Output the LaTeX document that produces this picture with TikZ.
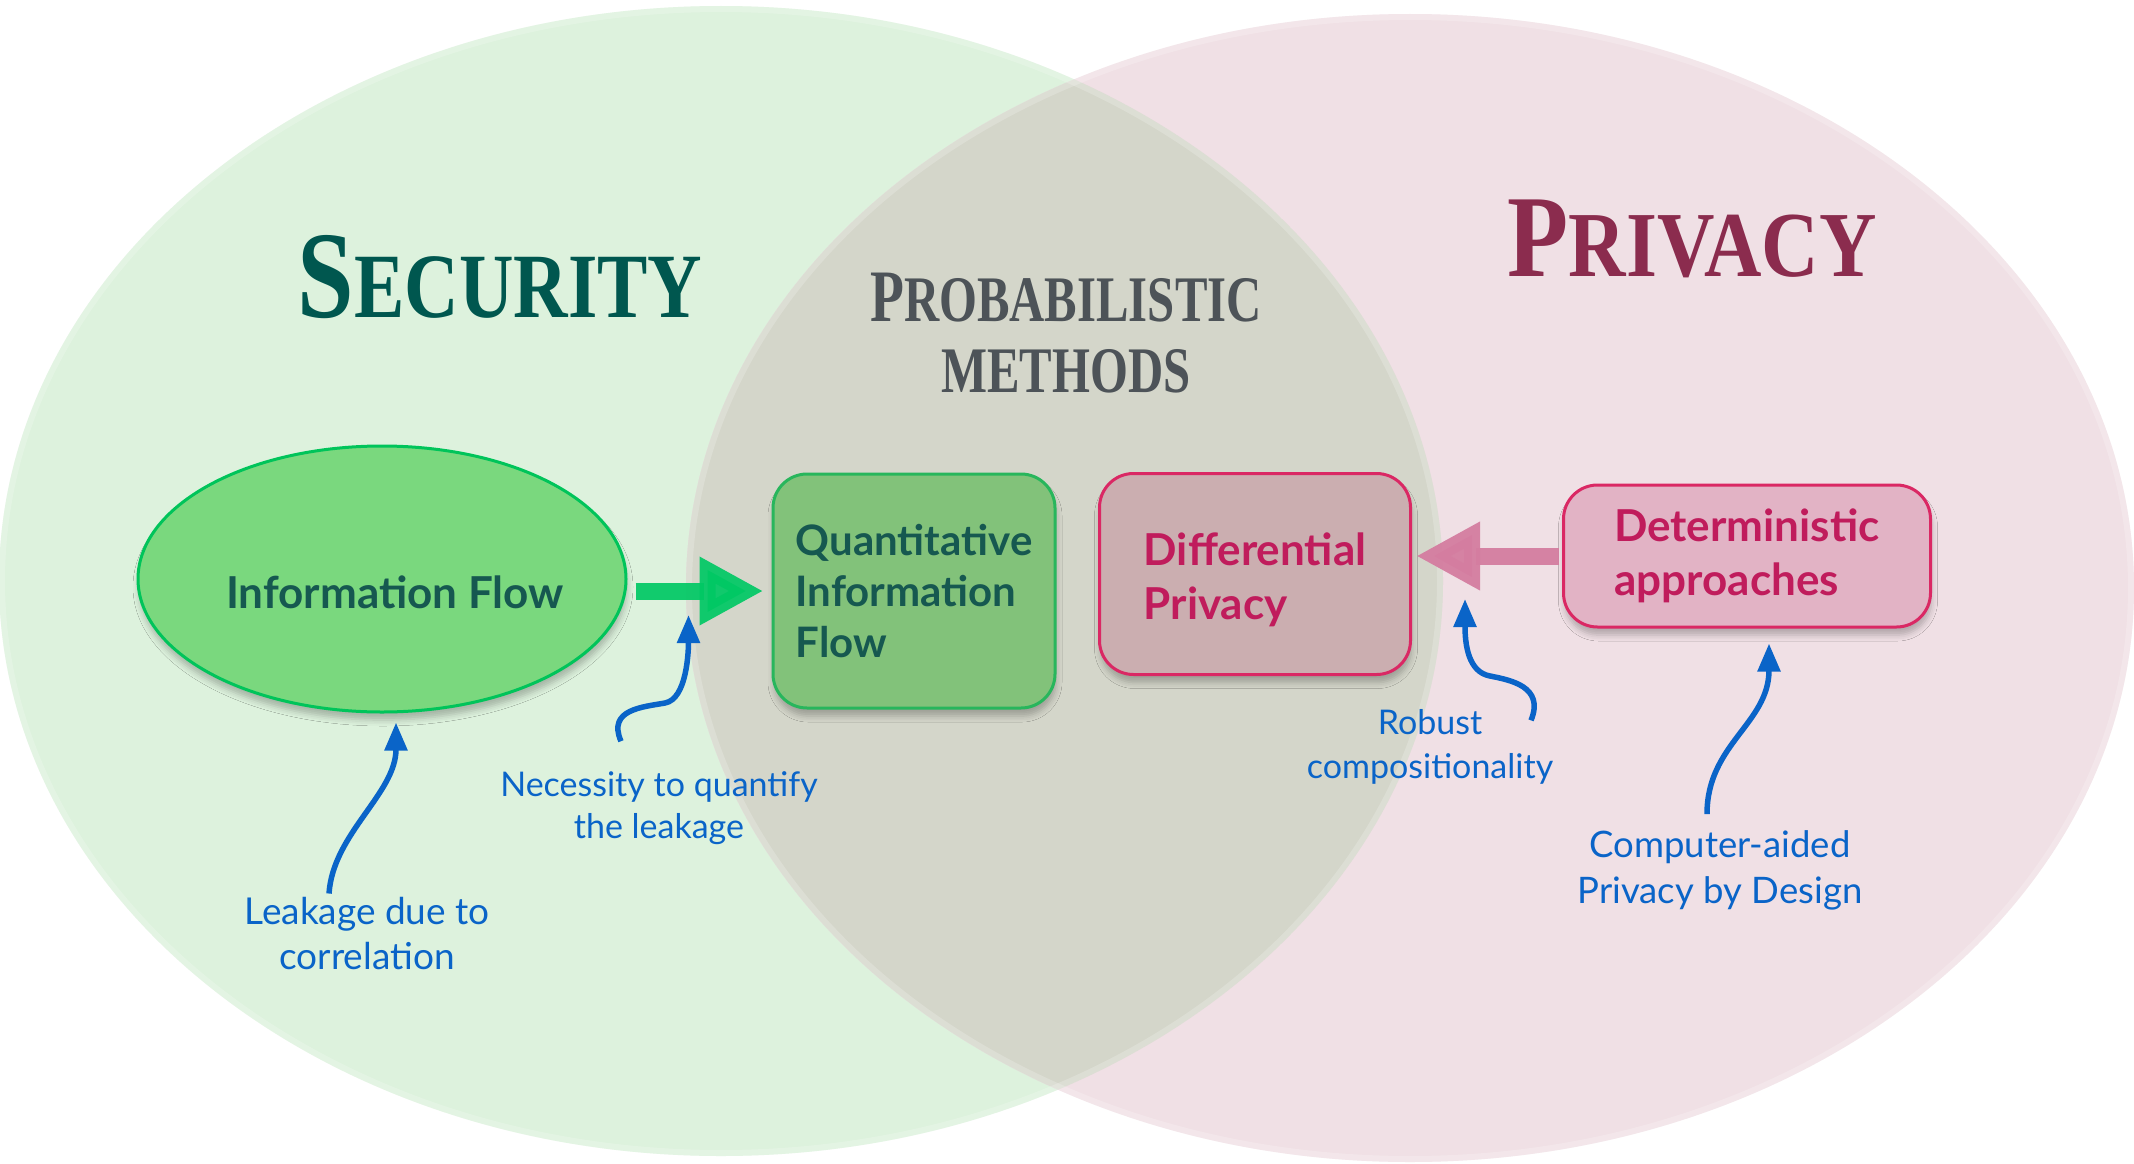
\documentclass[tikz,border=0pt]{standalone}
\usepackage{fontspec}
\setmainfont{Liberation Serif}
\newfontfamily\labelfont{Lato}
\usetikzlibrary{arrows.meta,shapes.geometric,shadows.blur,calc}

\definecolor{secbg}{RGB}{221,242,221}
\definecolor{privbg}{RGB}{240,224,229}
\definecolor{lensbg}{RGB}{212,214,202}
\definecolor{secink}{RGB}{0,87,79}
\definecolor{probink}{RGB}{77,83,88}
\definecolor{privink}{RGB}{139,44,78}
\definecolor{tealtext}{RGB}{22,88,80}
\definecolor{rosetext}{RGB}{192,28,92}
\definecolor{noteblue}{RGB}{10,100,200}
\definecolor{iffill}{RGB}{122,216,126}
\definecolor{ifedge}{RGB}{0,196,90}
\definecolor{qiffill}{RGB}{130,194,122}
\definecolor{qifedge}{RGB}{40,182,92}
\definecolor{dpfill}{RGB}{203,174,176}
\definecolor{rosedge}{RGB}{218,40,100}
\definecolor{detfill}{RGB}{226,179,197}
\definecolor{greenarrow}{RGB}{0,200,100}
\definecolor{pinkarrow}{RGB}{212,125,160}

\tikzset{
  heading/.style={anchor=base, inner sep=0pt},
  boxtext/.style={font=\labelfont\bfseries\fontsize{44}{54}\selectfont, align=left},
  softshadow/.style={blur shadow={shadow xshift=1pt, shadow yshift=-8pt,
      shadow blur radius=6pt, shadow opacity=25}},
  ifnode/.style={ellipse, font=\labelfont\bfseries\fontsize{44}{54}\selectfont,
      fill=iffill, draw=ifedge, line width=3pt, text=tealtext, softshadow,
      inner sep=0pt},
  qifbox/.style={rectangle, rounded corners=34pt, boxtext, fill=qiffill,
      draw=qifedge, line width=3pt, text=tealtext, softshadow},
  rosebox/.style={rectangle, rounded corners=34pt, boxtext, draw=rosedge,
      line width=3pt, text=rosetext, softshadow},
  note/.style={font=\labelfont\fontsize{36}{45}\selectfont, text=noteblue,
      align=center, inner sep=0pt},
  notearrow/.style={draw=noteblue, line width=5.5pt,
      -{Triangle[length=28pt,width=22pt]}},
  fatarrow/.style={line width=17pt, -{Triangle[length=64pt,width=64pt]}},
  domainrim/.style={draw=white, line width=6pt, draw opacity=0.2}
}

\begin{document}
\begin{tikzpicture}[x=1pt,y=-1pt]
\useasboundingbox (0,0) rectangle (2134,1164);
\fill[white] (0,0) rectangle (2134,1164);

% the two domains and their overlap
\fill[secbg] (721,581) ellipse [x radius=722pt, y radius=575pt];
\fill[privbg] (1410,588) ellipse [x radius=724pt, y radius=574pt];
\begin{scope}
  \clip (721,581) ellipse [x radius=722pt, y radius=575pt];
  \fill[lensbg] (1410,588) ellipse [x radius=724pt, y radius=574pt];
\end{scope}
\draw[domainrim] (721,581) ellipse [x radius=719pt, y radius=572pt];
\draw[domainrim] (1410,588) ellipse [x radius=721pt, y radius=571pt];

% domain headings, set as bold small capitals
\node[heading, text=secink] (sec) at (500,317)
  {\scalebox{0.82}[1]{\fontsize{124}{124}\bfseries S\fontsize{92}{92}\selectfont ECURITY}};
\node[heading, text=probink] (prob1) at (1066,321)
  {\scalebox{0.75}[1]{\fontsize{74}{74}\bfseries P\fontsize{65}{65}\selectfont ROBABILISTIC}};
\node[heading, text=probink] (prob2) at (1066,392)
  {\scalebox{0.75}[1]{\fontsize{65}{65}\bfseries METHODS}};
\node[heading, text=privink] (priv) at (1692,276)
  {\scalebox{0.855}[1]{\fontsize{117}{117}\bfseries P\fontsize{93}{93}\selectfont RIVACY}};

% concept nodes
\node[ifnode, minimum width=488pt, minimum height=266pt] (info) at (382,579)
  {\makebox[0pt]{\hspace{26pt}\smash{\raisebox{-29pt}{Information Flow}}}};
\node[qifbox, minimum width=282pt, minimum height=234pt,
      font=\labelfont\bfseries\fontsize{42}{51}\selectfont] (qif) at (914,591)
  {Quantitative\\Information\\Flow};
\node[rosebox, fill=dpfill, minimum width=311pt, minimum height=201pt] (dp)
  at (1255,574) {\rule{0pt}{45pt}Differential\\Privacy};
\node[rosebox, fill=detfill, minimum width=367pt, minimum height=142pt] (det)
  at (1747,556) {Deterministic\\approaches};

% main transitions
\draw[fatarrow, greenarrow, opacity=0.92, shorten <=8pt, shorten >=8pt]
  (info.east |- qif.west) -- (qif.west);
\draw[fatarrow, pinkarrow, opacity=0.95, shorten <=3pt, shorten >=4pt]
  (det.west) -- (dp.east |- det.west);

% annotations
\node[note, font=\labelfont\fontsize{37}{45}\selectfont] (leak) at (367,934)
  {Leakage due to\\correlation};
\node[note, font=\labelfont\fontsize{34}{42}\selectfont] (need) at (659,808)
  {Necessity to quantify\\the leakage};
\node[note, font=\labelfont\fontsize{34}{44}\selectfont] (robust) at (1430,747)
  {Robust\\compositionality};
\node[note, font=\labelfont\fontsize{36.5}{46}\selectfont] (cad) at (1720,870)
  {Computer-aided\\Privacy by Design};

\coordinate (leakstart) at ($(leak.north)+(-38,-4)$);
\coordinate (needstart) at ($(need.north)+(-38,-30)$);
\coordinate (robuststart) at ($(robust.north)+(101,11)$);
\coordinate (cadstart) at ($(cad.north)+(-13,-16)$);

\draw[notearrow] (leakstart) .. controls ++(4,-60) and ($(info.south)+(14,80)$)
  .. ($(info.south)+(14,9)$);
\draw[notearrow] (needstart) .. controls ++(-14,-32) and ++(-22,4) .. (665,703)
  .. controls ++(22,-4) and ($(qif.west)+(-83,60)$) .. ($(qif.west)+(-83,24)$);
\draw[notearrow] (robuststart) .. controls ++(14,-34) and ++(20,4) .. (1490,676)
  .. controls ++(-22,-4) and ($(dp.east)+(53,70)$) .. ($(dp.east)+(53,25)$);
\draw[notearrow] (cadstart) .. controls ++(0,-70) and ($(det.south)+(22,95)$)
  .. ($(det.south)+(22,15)$);
\end{tikzpicture}
\end{document}
